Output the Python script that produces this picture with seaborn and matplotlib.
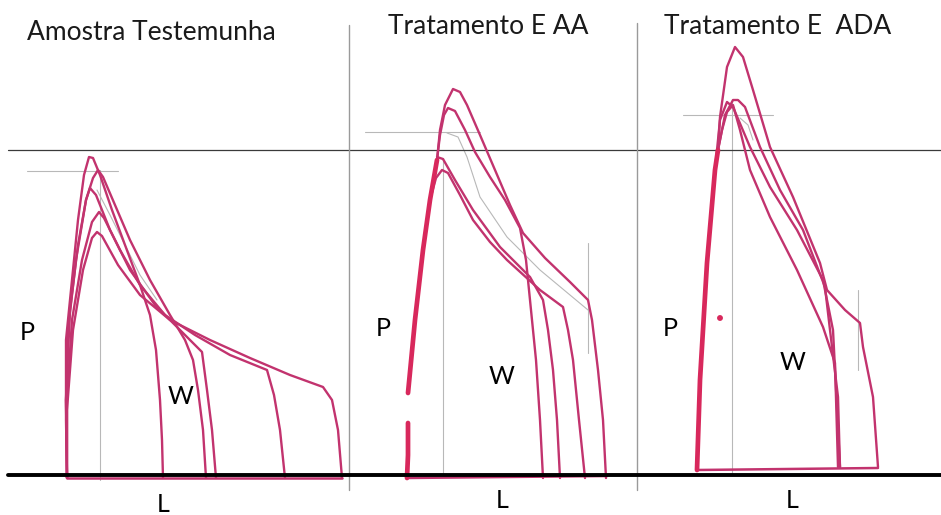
import pandas as pd
import matplotlib
matplotlib.use("Agg")
import matplotlib.pyplot as plt
import seaborn as sns

# Alveograph curves: x = L (distance), p = height above baseline
titles = ["Amostra Testemunha", "Tratamento E AA", "Tratamento E  ADA"]

# Amostra Testemunha
ctrl_x = [
    [67, 66, 66, 72, 78, 84, 89, 93, 100, 112, 125, 140, 150, 156, 160, 162, 163],
    [67, 66, 68, 76, 86, 93, 98, 103, 115, 130, 150, 170, 185, 193, 198, 203, 206],
    [67, 66, 70, 78, 86, 90, 96, 110, 130, 155, 180, 202, 207, 212, 216],
    [67, 67, 72, 82, 92, 99, 104, 120, 140, 165, 195, 230, 267, 274, 280, 285],
    [67, 67, 73, 83, 92, 97, 102, 118, 140, 170, 210, 250, 290, 323, 332, 338, 342],
]
ctrl_p = [
    [-3, 55, 135, 195, 255, 300, 318, 317, 300, 265, 230, 190, 160, 125, 75, 35, -3],
    [-3, 75, 145, 215, 275, 297, 305, 298, 270, 235, 195, 160, 135, 115, 85, 45, -3],
    [-3, 75, 165, 230, 275, 287, 280, 245, 205, 170, 145, 123, 85, 45, -3],
    [-3, 75, 155, 215, 253, 263, 257, 225, 190, 160, 140, 120, 105, 80, 45, -3],
    [-3, 65, 145, 205, 237, 243, 239, 210, 180, 155, 135, 117, 100, 88, 75, 45, -3],
]

# Tratamento E AA (the rise has a gap in the scan)
aa_rise_x = [[407, 408, 408], [408, 415, 423, 430, 437]]
aa_rise_p = [[-3, 20, 52], [82, 155, 225, 275, 315]]
aa_x = [
    [437, 440, 445, 453, 460, 467, 480, 495, 510, 523, 545, 570, 588, 592, 598, 603, 606],
    [437, 440, 444, 448, 455, 465, 475, 490, 505, 520, 526, 530, 536, 540, 543],
    [437, 443, 455, 473, 500, 530, 543, 548, 553, 557, 560],
    [430, 436, 442, 448, 460, 473, 490, 507, 540, 563, 568, 573, 579, 585],
]
aa_p = [
    [315, 345, 370, 386, 383, 370, 340, 305, 270, 242, 217, 193, 175, 155, 105, 55, -3],
    [315, 340, 360, 367, 364, 345, 323, 298, 275, 247, 215, 175, 115, 55, -3],
    [318, 316, 295, 265, 228, 198, 175, 145, 105, 55, -3],
    [275, 297, 305, 302, 280, 255, 233, 215, 185, 168, 145, 115, 55, -3],
]

# Tratamento E ADA
ada_rise_x = [697, 700, 707, 715, 718]
ada_rise_p = [5, 95, 212, 305, 325]
ada_x = [
    [718, 720, 727, 735, 743, 753, 770, 793, 820, 827, 845, 860, 863, 873, 878],
    [718, 725, 733, 738, 745, 760, 780, 803, 825, 830, 838, 840],
    [716, 720, 727, 733, 750, 770, 797, 823, 833, 840],
    [718, 722, 727, 733, 740, 750, 770, 797, 823, 835, 838],
]
ada_p = [
    [325, 358, 408, 428, 418, 385, 328, 278, 212, 185, 165, 152, 128, 78, 8],
    [325, 360, 375, 375, 368, 328, 285, 245, 188, 145, 78, 8],
    [315, 355, 373, 368, 328, 288, 245, 195, 145, 8],
    [325, 345, 363, 370, 345, 305, 258, 205, 148, 112, 8],
]

# bottom return line of each panel
base_x = [[67, 342], [407, 607], [697, 878]]
base_p = [[-3, -3], [-3, -1], [5, 7]]

# faint grey construction lines
grid_x = [[100, 100], [27, 118], [97, 110, 125, 140, 157],
          [443, 443], [365, 480], [447, 458, 467, 480, 507, 540, 588], [588, 588],
          [732, 732], [683, 773], [740, 748, 753], [858, 858]]
grid_p = [[305, -5], [304, 304], [285, 260, 230, 200, 175],
          [317, 0], [343, 343], [342, 338, 318, 278, 238, 205, 165], [232, 122],
          [375, 0], [360, 360], [357, 350, 335], [185, 105]]

labels = ["P", "W", "L"]
label_x = [[27, 181, 163], [383, 502, 502], [670, 793, 792]]
label_p = [[143, 78, -30], [147, 98, -25], [147, 113, -26]]
title_x = [151, 488, 778]
title_p = [442, 448, 448]

curve_color = "#c2336e"
rise_color = "#d8285c"

sns.set_style("white")
plt.rcParams["font.family"] = ["Lato", "DejaVu Sans"]

fig = plt.figure(figsize=(9.41, 5.15), dpi=100)
ax = fig.add_axes([0, 0, 1, 1])

for gx, gp in zip(grid_x, grid_p):
    sns.lineplot(x=gx, y=gp, ax=ax, color="#b8b8b8", lw=0.8, sort=False, estimator=None)

# reference lines
ax.axhline(325, xmin=8 / 941, color="#3a3a3a", lw=0.9)
ax.axvline(349, ymin=25 / 515, ymax=490 / 515, color="#9a9a9a", lw=1.0)
ax.axvline(637, ymin=25 / 515, ymax=492 / 515, color="#9a9a9a", lw=1.0)

for xs, ps in zip(ctrl_x + aa_x + ada_x, ctrl_p + aa_p + ada_p):
    sns.lineplot(x=xs, y=ps, ax=ax, color=curve_color, lw=1.7, sort=False, estimator=None)

for bx, bp in zip(base_x, base_p):
    sns.lineplot(x=bx, y=bp, ax=ax, color=curve_color, lw=1.8, sort=False, estimator=None)

for rx, rp in zip(aa_rise_x + [ada_rise_x], aa_rise_p + [ada_rise_p]):
    sns.lineplot(x=rx, y=rp, ax=ax, color=rise_color, lw=3.4, sort=False, estimator=None)
sns.scatterplot(x=[720], y=[157], ax=ax, color=rise_color, s=18, edgecolor="none")

ax.axhline(0, xmin=8 / 941, color="black", lw=2.8, zorder=5)

for i in range(3):
    ax.text(title_x[i], title_p[i], titles[i], ha="center", va="center", fontsize=19, color="#1a1a1a")
    for j in range(3):
        ax.text(label_x[i][j], label_p[i][j], labels[j], ha="center", va="center", fontsize=18, color="black")

ax.set_xlim(0, 941)
ax.set_ylim(-40, 475)
ax.axis("off")
fig.savefig("out.png", dpi=100, facecolor="white")
plt.close(fig)
